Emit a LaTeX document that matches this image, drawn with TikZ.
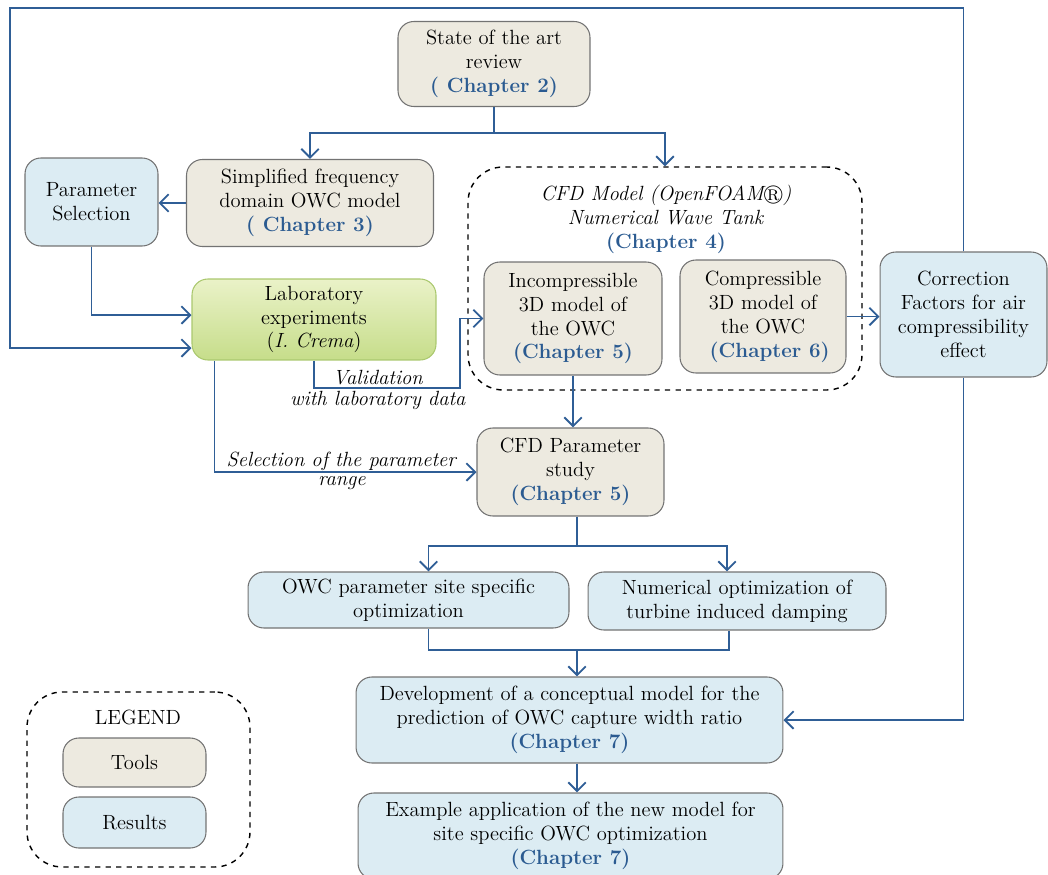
\documentclass[tikz,border=0pt]{standalone}
\usepackage{amssymb}
\usetikzlibrary{arrows.meta}
\definecolor{lnblue}{RGB}{47,94,150}
\definecolor{chblue}{RGB}{43,91,145}
\definecolor{toolfill}{RGB}{237,234,224}
\definecolor{resfill}{RGB}{220,236,243}
\definecolor{labtop}{RGB}{234,242,200}
\definecolor{labbot}{RGB}{198,221,138}
\definecolor{labdraw}{RGB}{170,200,110}
\newcommand{\chap}[1]{{\color{chblue}\bfseries #1}}
\begin{document}
\begin{tikzpicture}[x=0.02cm,y=-0.02cm,font=\fontsize{11.7}{13.6}\selectfont,
        box/.style={draw=black!55,line width=.6pt,rounded corners=9pt,align=center,inner sep=1pt},
        tool/.style={box,fill=toolfill},
        result/.style={box,fill=resfill},
        labbox/.style={box,draw=labdraw,top color=labtop,bottom color=labbot},
        group/.style={draw,dashed,line width=.8pt,rounded corners=20pt},
        plain/.style={draw=lnblue,line width=1.1pt},
        link/.style={plain,-{Straight Barb[length=5pt,width=10pt]}}]
        \useasboundingbox (0,0) rectangle (1048,875);
        \node[tool,minimum width=3.84cm,minimum height=1.7cm] (art) at (494,64) {State of the art\\review\\\chap{( Chapter 2)}};
        \node[tool,minimum width=4.94cm,minimum height=1.74cm] (simp) at (310,203) {Simplified frequency\\domain OWC model\\\chap{( Chapter 3)}};
        \node[result,minimum width=2.66cm,minimum height=1.76cm] (param) at (91.5,202) {Parameter\\Selection};
        \node[labbox,minimum width=4.88cm,minimum height=1.62cm] (lab) at (314,319.5) {Laboratory\\experiments\\(\textit{I. Crema})};
        \node[group,minimum width=7.88cm,minimum height=4.46cm] (cfd) at (665,278.5) {};
        \node[align=center] (cfdtitle) at (666,219) {\textit{CFD Model (OpenFOAM$\circledR$)}\\\textit{Numerical Wave Tank}\\\chap{(Chapter 4)}};
        \node[tool,minimum width=3.56cm,minimum height=2.26cm] (incomp) at (573,318.5) {Incompressible\\3D model of\\the OWC\\\chap{(Chapter 5)}};
        \node[tool,minimum width=3.32cm,minimum height=2.26cm] (comp) at (763,316.5) {Compressible\\3D model of\\the OWC\\\ \ \chap{(Chapter 6)}};
        \node[result,minimum width=3.34cm,minimum height=2.5cm] (corr) at (963.5,314.5) {Correction\\Factors for air\\compressibility\\effect};
        \node[tool,minimum width=3.74cm,minimum height=1.76cm] (cfdp) at (570.5,472) {CFD Parameter\\study\\\chap{(Chapter 5)}};
        \node[result,minimum width=6.42cm,minimum height=1.12cm] (owcp) at (408.5,600) {OWC parameter site specific\\optimization};
        \node[result,minimum width=5.96cm,minimum height=1.16cm] (numopt) at (737,601) {Numerical optimization of\\turbine induced damping};
        \node[result,minimum width=8.54cm,minimum height=1.72cm] (dev) at (569.5,720) {Development of a conceptual model for the\\prediction of OWC capture width ratio\\\chap{(Chapter 7)}};
        \node[result,minimum width=8.5cm,minimum height=1.72cm] (ex) at (570.5,836) {Example application of the new model for\\site specific OWC optimization\\\chap{(Chapter 7)}};
        \node[group,minimum width=4.46cm,minimum height=3.5cm] (legend) at (138.5,779.5) {};
        \node (legtitle) at (138,717) {LEGEND};
        \node[tool,minimum width=2.86cm,minimum height=.98cm] (tools) at (134.5,762.5) {Tools};
        \node[result,minimum width=2.86cm,minimum height=1.02cm] (results) at (134.5,822.5) {Results};
        \coordinate (s1) at (494,133);
        \draw[plain] (art) -- (s1);
        \draw[link] (s1) -| (simp.north);
        \draw[link] (s1) -| (cfd.north);
        \draw[link] (simp.west) -- (simp.west -| param.east);
        \draw[link] (param.south) |- ([yshift=.09cm]lab.west);
        \draw[link] (corr.north) |- (10,8) |- (lab.west |- 0,348);
        \draw[link] (lab.south) |- (460,388) |- (incomp.west);
        \node (val1) at (378,378) {\textit{Validation}};
        \node (val2) at (378,400) {\textit{with laboratory data}};
        \draw[link] ([xshift=.46cm]lab.south west) |- (cfdp.west);
        \node (sel1) at (342,461) {\textit{Selection of the parameter}};
        \node (sel2) at (342,483) {\textit{range}};
        \draw[link] (incomp.south) -- (incomp.south |- cfdp.north);
        \draw[link] (comp.east) -- (comp.east -| corr.west);
        \coordinate (s2) at (577,546);
        \draw[plain] (cfdp.south -| s2) -- (s2);
        \draw[link] (s2) -| ([xshift=.4cm]owcp.north);
        \draw[link] (s2) -| ([xshift=-.2cm]numopt.north);
        \coordinate (m) at (577,650);
        \draw[plain] ([xshift=.4cm]owcp.south) |- (m) -| ([xshift=-.16cm]numopt.south);
        \draw[link] (m) -- (m |- dev.north);
        \draw[link] (corr.south) |- (dev.east);
        \draw[link] (m |- dev.south) -- (m |- ex.north);
        \end{tikzpicture}
\end{document}
